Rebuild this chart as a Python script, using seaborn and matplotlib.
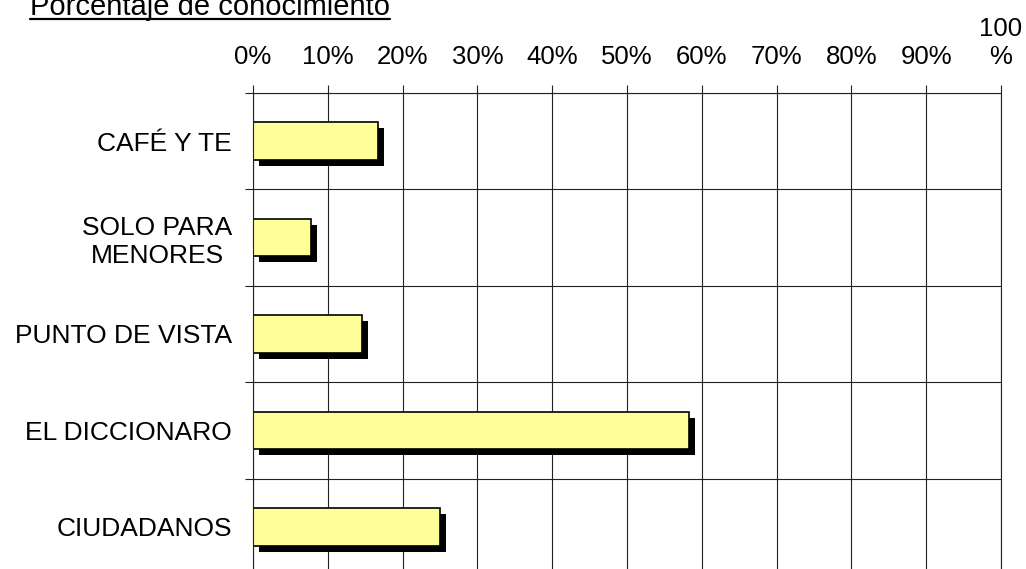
import matplotlib
matplotlib.use('Agg')
import numpy as np
import pandas as pd
import matplotlib.pyplot as plt
import matplotlib.patheffects as pe
from matplotlib.lines import Line2D
import seaborn as sns

# ============================================================================
# Data
# ============================================================================
categorias = ['CAFÉ Y TE', 'SOLO PARA\nMENORES', 'PUNTO DE VISTA',
              'EL DICCIONARO', 'CIUDADANOS']
porcentajes = [16.7, 7.8, 14.6, 58.3, 25.0]

ticks_x = [0, 10, 20, 30, 40, 50, 60, 70, 80, 90, 100]
etiquetas_x = ['0%', '10%', '20%', '30%', '40%', '50%', '60%', '70%',
               '80%', '90%', '100\n%']

titulo = 'Porcentaje de conocimiento'

df = pd.DataFrame({'categoria': categorias, 'porcentaje': porcentajes})

# ============================================================================
# Style
# ============================================================================
sns.set_style('white')
plt.rcParams['font.family'] = ['Liberation Sans', 'DejaVu Sans']
plt.rcParams['text.color'] = 'black'
plt.rcParams['xtick.labelcolor'] = 'black'
plt.rcParams['ytick.labelcolor'] = 'black'

W, H = 1026, 569
fig = plt.figure(figsize=(W / 100, H / 100), dpi=100)
ax = fig.add_axes([253 / W, 1 - 575 / H, 748 / W, 482 / H])

line_col = '#222222'

sns.barplot(data=df, x='porcentaje', y='categoria', orient='h',
            color='#FFFF99', saturation=1, width=0.39,
            edgecolor='black', linewidth=1.2, ax=ax)

# drop shadow like the old spreadsheet charts
for p in ax.patches:
    p.set_path_effects([pe.SimplePatchShadow(offset=(4.3, -4.3),
                                             shadow_rgbFace='black', alpha=1),
                        pe.Normal()])

ax.set_xlim(0, 100)
ax.set_ylim(len(categorias) - 0.5, -0.5)
ax.set_xlabel('')
ax.set_ylabel('')

# x axis on top
ax.xaxis.tick_top()
ax.set_xticks(ticks_x)
ax.set_xticklabels(etiquetas_x)
ax.tick_params(axis='x', which='major', direction='out', length=5.8,
               width=0.8, color=line_col, pad=11.5, labelsize=18.5,
               labelcolor='black')

# y: labels at centres, ticks/grid at category boundaries
ax.set_yticks(np.arange(-0.5, len(categorias), 1), minor=True)
ax.tick_params(axis='y', which='major', length=0, pad=15, labelsize=19,
               labelcolor='black')
ax.tick_params(axis='y', which='minor', left=True, direction='out',
               length=5.8, width=0.8, color=line_col)
for lbl in ax.get_yticklabels():
    lbl.set_multialignment('center')

ax.grid(True, axis='x', which='major', color=line_col, linewidth=0.8)
ax.grid(True, axis='y', which='minor', color=line_col, linewidth=0.8)
ax.set_axisbelow(True)

for s in ax.spines.values():
    s.set_visible(True)
    s.set_color(line_col)
    s.set_linewidth(0.8)

# title, underlined
t = fig.text(30 / W, 1 - 15 / H, titulo, fontsize=21, ha='left',
             va='baseline', color='black')
fig.canvas.draw()
bb = t.get_window_extent()
yl = 1 - 18.5 / H
fig.add_artist(Line2D([bb.x0 / W, bb.x1 / W], [yl, yl],
                      transform=fig.transFigure, color='black', linewidth=1.6))

fig.savefig('out.png', dpi=100, facecolor='white')
